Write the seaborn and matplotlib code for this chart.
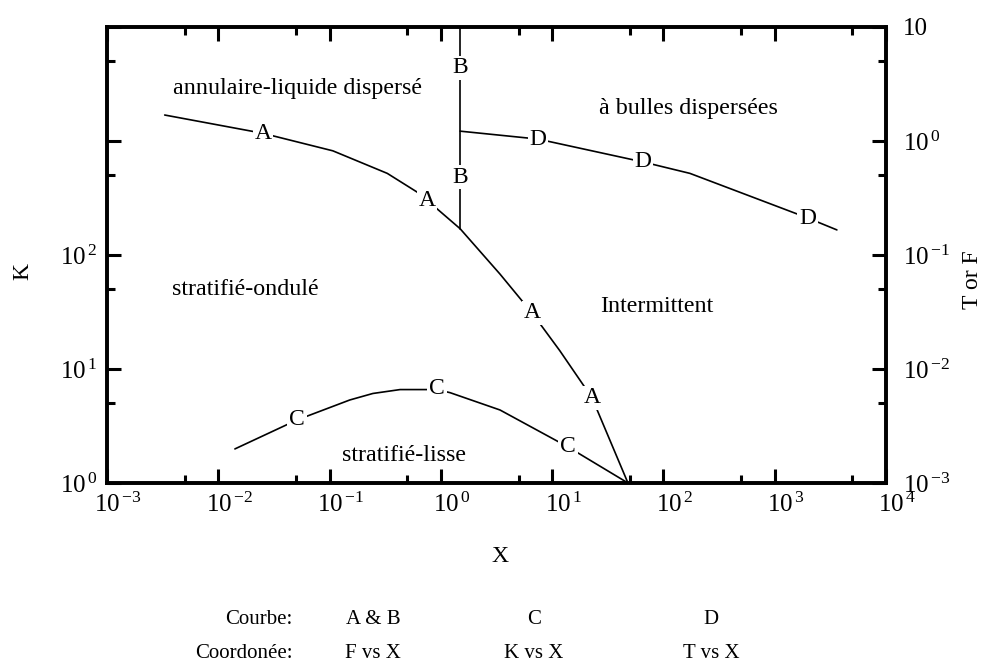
import numpy as np
import pandas as pd
import matplotlib
matplotlib.use("Agg")
import matplotlib.pyplot as plt
import seaborn as sns
from matplotlib.ticker import FixedLocator, FixedFormatter, NullFormatter
from matplotlib.transforms import ScaledTranslation

# ---------------- data ----------------
# Curve A : F vs X (right axis)
A_x = [0.0033, 0.025, 0.107, 0.33, 0.61, 0.75, 1.49, 3.4, 6.6, 11.7, 22.8, 48]
A_f = [1.69, 1.17, 0.82, 0.52, 0.357, 0.303, 0.17, 0.068, 0.031, 0.0145, 0.0056, 0.001]
# Curve B : vertical boundary, F vs X (right axis)
B_x = [1.49, 1.49]
B_f = [10.0, 0.17]
# Curve C : K vs X (left axis)
C_x = [0.0141, 0.0509, 0.152, 0.245, 0.43, 0.92, 1.21, 3.4, 13.9, 48]
C_k = [1.99, 3.57, 5.35, 6.1, 6.6, 6.6, 6.2, 4.37, 2.07, 1.0]
# Curve D : T vs X (right axis)
D_x = [1.49, 7.45, 65.5, 173, 1986, 3620]
D_t = [1.22, 1.04, 0.655, 0.52, 0.211, 0.166]

# curve letter labels (data coordinates)
A_lab_x = [0.0252, 0.75, 6.59, 22.8]
A_lab_y = [1.17, 0.303, 0.031, 0.00557]
B_lab_x = [1.49, 1.49]
B_lab_y = [4.37, 0.483]
C_lab_x = [0.0509, 0.92, 13.9]
C_lab_y = [3.57, 6.68, 2.07]
D_lab_x = [7.45, 65.5, 1986]
D_lab_y = [1.04, 0.655, 0.211]

x_ticks = [1e-3, 1e-2, 1e-1, 1e0, 1e1, 1e2, 1e3, 1e4]
x_ticklabels = [r"$10^{\,\mathregular{-3}}$", r"$10^{\,\mathregular{-2}}$", r"$10^{\,\mathregular{-1}}$",
                r"$10^{\,\mathregular{0}}$", r"$10^{\,\mathregular{1}}$", r"$10^{\,\mathregular{2}}$",
                r"$10^{\,\mathregular{3}}$", r"$10^{\,\mathregular{4}}$"]
x_minor = [5e-3, 5e-2, 5e-1, 5e0, 5e1, 5e2, 5e3]
k_ticks = [1, 10, 100, 1000, 10000]
k_ticklabels = [r"$10^{\,\mathregular{0}}$", r"$10^{\,\mathregular{1}}$", r"$10^{\,\mathregular{2}}$", "", ""]
k_minor = [5, 50, 500, 5000]
tf_ticks = [1e-3, 1e-2, 1e-1, 1e0, 1e1]
tf_ticklabels = [r"$10^{\,\mathregular{-3}}$", r"$10^{\,\mathregular{-2}}$", r"$10^{\,\mathregular{-1}}$",
                 r"$10^{\,\mathregular{0}}$", "10"]
tf_minor = [5e-3, 5e-2, 5e-1, 5e0]

regions = ["annulaire-liquide dispersé", "stratifié-ondulé", "à bulles dispersées",
           "Intermittent", "stratifié-lisse"]
legend_row1 = ["Courbe:", "A & B", "C", "D"]
legend_row2 = ["Coordonée:", "F vs X", "K vs X", "T vs X"]

# ---------------- style ----------------
sns.set_theme(style="white")
plt.rcParams["font.family"] = ["Liberation Serif", "DejaVu Serif"]
plt.rcParams["mathtext.fontset"] = "custom"
plt.rcParams["mathtext.rm"] = "Liberation Serif"
plt.rcParams["mathtext.it"] = "Liberation Serif:italic"
plt.rcParams["mathtext.bf"] = "Liberation Serif:bold"
plt.rcParams["axes.edgecolor"] = "black"
plt.rcParams["xtick.color"] = "black"
plt.rcParams["ytick.color"] = "black"
plt.rcParams["text.color"] = "black"

W, H = 1000, 668
L, R, T, B = 107, 886, 27, 483
fig = plt.figure(figsize=(W / 100, H / 100), dpi=100)
fig.patch.set_facecolor("white")
ax = fig.add_axes([L / W, 1 - B / H, (R - L) / W, (B - T) / H])
ax2 = ax.twinx()

for a in (ax, ax2):
    a.set_xscale("log")
    a.set_yscale("log")

lw = 1.2
dfA = pd.DataFrame({"X": A_x, "F": A_f})
dfB = pd.DataFrame({"X": B_x, "F": B_f})
dfC = pd.DataFrame({"X": C_x, "K": C_k})
dfD = pd.DataFrame({"X": D_x, "T": D_t})
sns.lineplot(data=dfA, x="X", y="F", ax=ax2, color="black", lw=lw, sort=False, estimator=None, legend=False)
sns.lineplot(data=dfB, x="X", y="F", ax=ax2, color="black", lw=lw, sort=False, estimator=None, legend=False)
sns.lineplot(data=dfD, x="X", y="T", ax=ax2, color="black", lw=lw, sort=False, estimator=None, legend=False)
sns.lineplot(data=dfC, x="X", y="K", ax=ax, color="black", lw=lw, sort=False, estimator=None, legend=False)
ax.set_xlim(1e-3, 1e4)
ax.set_ylim(1, 1e4)
ax2.set_ylim(1e-3, 1e1)
ax.set_xlabel("")
ax.set_ylabel("")
ax2.set_ylabel("")

fs = 17
bb = dict(boxstyle="square,pad=0.08", fc="white", ec="none")
for x, y in zip(A_lab_x, A_lab_y):
    ax2.text(x, y, "A", ha="center", va="center", fontsize=fs, bbox=bb, zorder=5)
for x, y in zip(B_lab_x, B_lab_y):
    ax2.text(x, y, "B", ha="center", va="center", fontsize=fs, bbox=bb, zorder=5)
for x, y in zip(D_lab_x, D_lab_y):
    ax2.text(x, y, "D", ha="center", va="center", fontsize=fs, bbox=bb, zorder=5)
for x, y in zip(C_lab_x, C_lab_y):
    ax.text(x, y, "C", ha="center", va="center", fontsize=fs, bbox=bb, zorder=5)

# region names (axes fraction)
reg_pos = [(0.244, 0.866), (0.177, 0.425), (0.747, 0.822), (0.706, 0.386), (0.381, 0.061)]
for s, (px, py) in zip(regions, reg_pos):
    ax.text(px, py, s, transform=ax.transAxes, ha="center", va="center", fontsize=17.3)

# ticks
ax.xaxis.set_major_locator(FixedLocator(x_ticks))
ax.xaxis.set_major_formatter(FixedFormatter(x_ticklabels))
ax.xaxis.set_minor_locator(FixedLocator(x_minor))
ax.xaxis.set_minor_formatter(NullFormatter())
ax.yaxis.set_major_locator(FixedLocator(k_ticks))
ax.yaxis.set_major_formatter(FixedFormatter(k_ticklabels))
ax.yaxis.set_minor_locator(FixedLocator(k_minor))
ax.yaxis.set_minor_formatter(NullFormatter())
ax2.yaxis.set_major_locator(FixedLocator(tf_ticks))
ax2.yaxis.set_major_formatter(FixedFormatter(tf_ticklabels))
ax2.yaxis.set_minor_locator(FixedLocator(tf_minor))
ax2.yaxis.set_minor_formatter(NullFormatter())

ax.tick_params(axis="x", which="both", direction="in", top=True, bottom=True, width=2.2,
               labelsize=18, pad=7)
ax.tick_params(axis="y", which="both", direction="in", left=True, right=False, width=2.2,
               labelsize=18, pad=7)
ax2.tick_params(axis="y", which="both", direction="in", left=False, right=True, width=2.2,
                labelsize=18, pad=12)
for a in (ax, ax2):
    a.tick_params(which="major", length=10)
    a.tick_params(which="minor", length=6)
    for sp in a.spines.values():
        sp.set_linewidth(2.6)
        sp.set_color("black")
ax.grid(False)
ax2.grid(False)

# x tick labels: centre the "10" on the tick, exponent to the right
shift = ScaledTranslation(8 / 72, 0, fig.dpi_scale_trans)
for lab in ax.get_xticklabels():
    lab.set_transform(lab.get_transform() + shift)

# axis titles
fig.text(500 / W, 1 - 556 / H, "X", ha="center", va="center", fontsize=fs)
fig.text(23 / W, 1 - 271 / H, "K", ha="center", va="center", fontsize=fs, rotation=90)
fig.text(972 / W, 1 - 280 / H, "T or F", ha="center", va="center", fontsize=fs, rotation=90)

# bottom key
y1, y2 = 1 - 619 / H, 1 - 654 / H
cols = [293, 373, 534, 711]
fig.text(cols[0] / W, y1, legend_row1[0], ha="right", va="center", fontsize=15)
fig.text(cols[0] / W, y2, legend_row2[0], ha="right", va="center", fontsize=15)
for c, s1, s2 in zip(cols[1:], legend_row1[1:], legend_row2[1:]):
    fig.text(c / W, y1, s1, ha="center", va="center", fontsize=15)
    fig.text(c / W, y2, s2, ha="center", va="center", fontsize=15)

fig.savefig("out.png", dpi=100, facecolor="white")
